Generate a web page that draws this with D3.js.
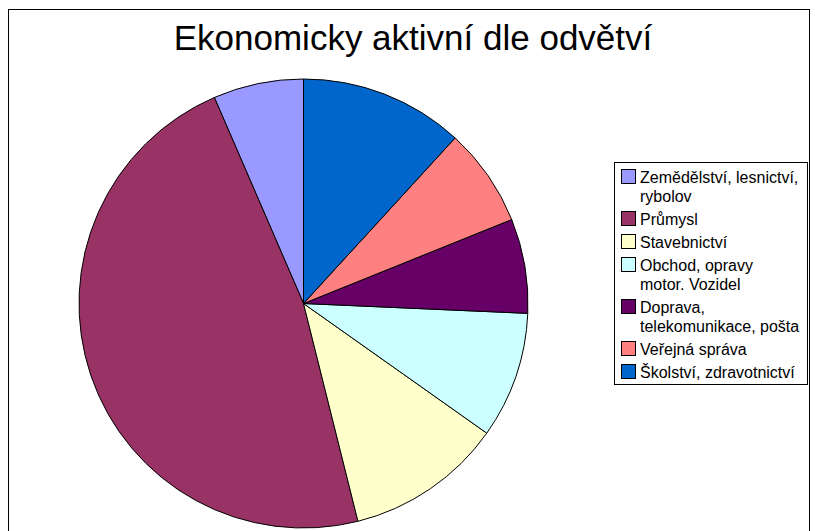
<!DOCTYPE html>
<html>
<head>
<meta charset="utf-8">
<script src="https://cdn.jsdelivr.net/npm/d3@7"></script>
<style>
  html, body { margin: 0; padding: 0; background: #fff; }
  svg { display: block; font-family: "Liberation Sans", Arial, sans-serif; }
</style>
</head>
<body>
<svg id="chart" width="815" height="531"></svg>
<script>
const title = "Ekonomicky aktivní dle odvětví";
const categories = [
  ["Zemědělství, lesnictví,", "rybolov"],
  ["Průmysl"],
  ["Stavebnictví"],
  ["Obchod, opravy", "motor. Vozidel"],
  ["Doprava,", "telekomunikace, pošta"],
  ["Veřejná správa"],
  ["Školství, zdravotnictví"]
];
const values = [6.5, 47.4, 11.3, 9.1, 6.8, 7.1, 11.8];
const colors = ["#9999FF", "#993366", "#FFFFCC", "#CCFFFF", "#660066", "#FF8080", "#0066CC"];

const svg = d3.select("#chart");

// frame
svg.append("rect")
  .attr("x", 8.5).attr("y", 9.5)
  .attr("width", 801).attr("height", 600)
  .attr("fill", "none").attr("stroke", "#000").attr("stroke-width", 1);

// title
svg.append("text")
  .attr("x", 413).attr("y", 50)
  .attr("text-anchor", "middle")
  .attr("font-size", 35)
  .attr("fill", "#000")
  .text(title);

// pie
const cx = 303.5, cy = 303.5, r = 224.5;
const data = values.map((v, i) => ({ v, i }));
const pie = d3.pie().value(d => d.v).sort(null)
  .startAngle(0).endAngle(-2 * Math.PI);
const arc = d3.arc().innerRadius(0).outerRadius(r);

const g = svg.append("g").attr("transform", `translate(${cx},${cy})`);
g.selectAll("path")
  .data(pie(data))
  .join("path")
  .attr("d", arc)
  .attr("fill", d => colors[d.data.i])
  .attr("stroke", "#000")
  .attr("stroke-width", 1)
  .attr("stroke-linejoin", "round");

// legend
const lg = svg.append("g");
lg.append("rect")
  .attr("x", 614.5).attr("y", 162.5)
  .attr("width", 193).attr("height", 222)
  .attr("fill", "#fff").attr("stroke", "#000").attr("stroke-width", 1);

const lineH = 19, itemGap = 23;
let cyLine = 177;
categories.forEach((lines, i) => {
  lg.append("rect")
    .attr("x", 621.5).attr("y", cyLine - 7.5)
    .attr("width", 14).attr("height", 14)
    .attr("fill", colors[i]).attr("stroke", "#000").attr("stroke-width", 1);
  lines.forEach((t, j) => {
    lg.append("text")
      .attr("x", 640)
      .attr("y", cyLine + j * lineH)
      .attr("dy", "0.36em")
      .attr("font-size", 16)
      .attr("fill", "#000")
      .text(t);
  });
  cyLine += (lines.length - 1) * lineH + itemGap;
});
</script>
</body>
</html>
